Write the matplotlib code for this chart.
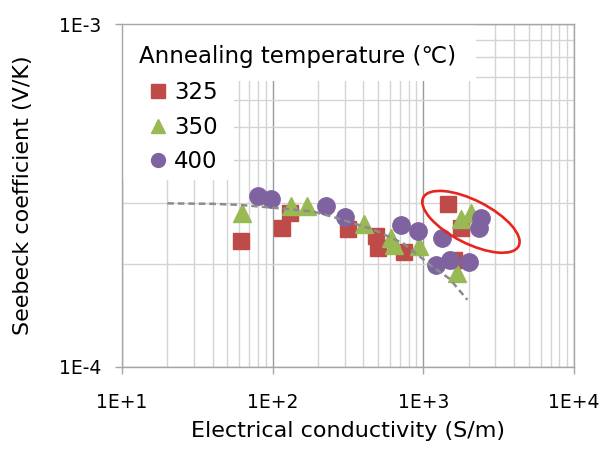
import math
import matplotlib
matplotlib.use("Agg")
import matplotlib.pyplot as plt
import matplotlib.ticker as mticker
import matplotlib.transforms as mtransforms
from matplotlib.patches import Ellipse, Rectangle
from matplotlib.lines import Line2D

plt.rcParams['font.family'] = ['DejaVu Sans', 'Noto Sans CJK JP']

# ---- data ----
x325 = [62, 116, 131, 316, 486, 499, 748, 1604, 1465, 1778]
y325 = [2.33e-4, 2.55e-4, 2.82e-4, 2.53e-4, 2.41e-4, 2.22e-4, 2.17e-4, 2.05e-4, 2.99e-4, 2.54e-4]

x350 = [62.7, 131.5, 169, 401, 611, 643, 942, 1680, 1778, 2070]
y350 = [2.81e-4, 2.95e-4, 2.95e-4, 2.61e-4, 2.38e-4, 2.27e-4, 2.25e-4, 1.88e-4, 2.70e-4, 2.82e-4]

x400 = [80, 98, 227, 300, 711, 915, 1340, 1214, 1500, 1995, 2410, 2350]
y400 = [3.15e-4, 3.08e-4, 2.95e-4, 2.74e-4, 2.59e-4, 2.49e-4, 2.37e-4, 1.98e-4, 2.05e-4, 2.03e-4, 2.71e-4, 2.54e-4]

curve_x = [20, 40, 60, 95, 185, 251, 462, 740, 1150, 1490, 1960]
curve_y = [3.0e-4, 2.99e-4, 2.97e-4, 2.92e-4, 2.84e-4, 2.74e-4, 2.52e-4, 2.29e-4, 1.96e-4, 1.81e-4, 1.57e-4]

series_labels = ['325', '350', '400']
legend_title = 'Annealing temperature (\u2103)'
x_label = 'Electrical conductivity (S/m)'
y_label = 'Seebeck coefficient (V/K)'
ellipse_center = (2070, 2.65e-4)

c325 = '#BE4B48'
c350 = '#98B954'
c400 = '#7F63A1'

fig = plt.figure(figsize=(6.06, 4.5), dpi=100)
ax = fig.add_axes([122/606, 1-367/450, 452/606, 343/450])
ax.set_xscale('log')
ax.set_yscale('log')
ax.set_xlim(10, 1e4)
ax.set_ylim(1e-4, 1e-3)

ax.xaxis.set_major_locator(mticker.LogLocator(base=10, numticks=10))
ax.yaxis.set_major_locator(mticker.LogLocator(base=10, numticks=10))
ax.xaxis.set_minor_locator(mticker.LogLocator(base=10, subs=range(2, 10), numticks=20))
ax.yaxis.set_minor_locator(mticker.LogLocator(base=10, subs=range(2, 10), numticks=20))
ax.xaxis.set_minor_formatter(mticker.NullFormatter())
ax.yaxis.set_minor_formatter(mticker.NullFormatter())

def efmt(v, pos):
    e = int(round(math.log10(v)))
    return '1E%s%d' % ('+' if e >= 0 else '-', abs(e))

ax.xaxis.set_major_formatter(mticker.FuncFormatter(efmt))
ax.yaxis.set_major_formatter(mticker.FuncFormatter(efmt))

ax.grid(True, which='minor', color='#D4D4D4', linewidth=1.0)
ax.grid(True, which='major', color='#9A9A9A', linewidth=1.0)
ax.set_axisbelow(True)

for s in ax.spines.values():
    s.set_color('#A6A6A6')
    s.set_linewidth(1.0)

ax.tick_params(which='major', direction='out', length=5, width=1, color='#A6A6A6',
               labelsize=13.5, pad=14)
ax.tick_params(axis='y', which='major', pad=10)
ax.tick_params(which='minor', length=0)

# legend background patches (white)
ax.add_patch(Rectangle((0, (367-81)/343), (476-122)/452, 1-(367-81)/343,
                       transform=ax.transAxes, facecolor='white', edgecolor='none', zorder=1.5))
ax.add_patch(Rectangle((0, (367-180)/343), (234-122)/452, 1-(367-180)/343,
                       transform=ax.transAxes, facecolor='white', edgecolor='none', zorder=1.5))

ax.plot(x325, y325, linestyle='none', marker='s', markersize=12, color=c325, zorder=3)
ax.plot(x350, y350, linestyle='none', marker='^', markersize=13.5, color=c350, zorder=4)
ax.plot(x400, y400, linestyle='none', marker='o', markersize=12.5, color=c400, zorder=5)

ax.plot(curve_x, curve_y, color='#8C8C8C', linewidth=1.8, linestyle=(0, (2.6, 1.6)), zorder=6)

trans = fig.dpi_scale_trans + mtransforms.ScaledTranslation(ellipse_center[0], ellipse_center[1], ax.transData)
ax.add_patch(Ellipse((0, 0), width=1.07, height=0.43, angle=-27, transform=trans,
                     facecolor='none', edgecolor='#E8241E', linewidth=1.9, zorder=7))

ax.text((139-122)/452, (367-57)/343, legend_title, transform=ax.transAxes,
        fontsize=16.5, ha='left', va='center', zorder=8)

handles = [Line2D([], [], linestyle='none', marker='s', markersize=9.5, color=c325),
           Line2D([], [], linestyle='none', marker='^', markersize=10.5, color=c350),
           Line2D([], [], linestyle='none', marker='o', markersize=10, color=c400)]
leg = ax.legend(handles, series_labels, loc='upper left', bbox_to_anchor=(0.039, 0.86),
                frameon=False, fontsize=16.5, handlelength=0.8, handletextpad=0.3,
                labelspacing=0.5, borderaxespad=0)
leg.set_zorder(8)

ax.set_xlabel(x_label, fontsize=16, labelpad=6)
ax.set_ylabel(y_label, fontsize=16)
ax.yaxis.set_label_coords(-0.197, 0.5)

fig.savefig('out.png', dpi=100)
